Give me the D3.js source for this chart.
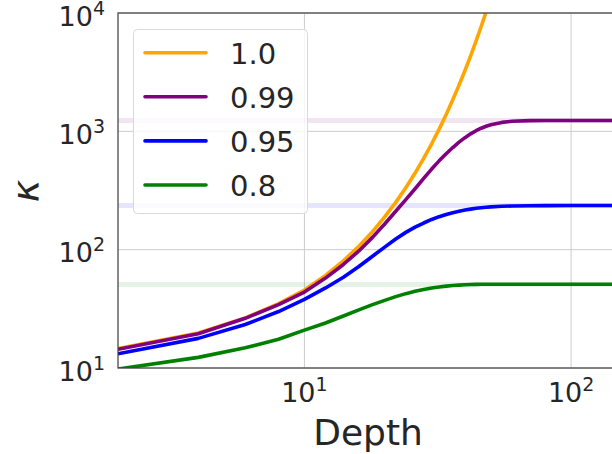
<!DOCTYPE html>
<head>
    <meta charset="utf-8">
    <script src="https://d3js.org/d3.v7.min.js"></script>
    <style>
        body { margin:0; background:#fff; }
        text { font-family: "DejaVu Sans", sans-serif; fill:#262626; }
    </style>
</head>
<body>
<div id="chart"></div>
<script>

    // ******************** Data ************************
    var depths = [2, 4, 6, 8, 10, 12, 14, 16, 18, 20, 22, 24, 26, 28, 30, 32, 34, 36, 38, 40,
                  42, 44, 46, 48, 50, 55, 60, 70, 80, 100, 120, 150];

    var seriesNames = ["1.0", "0.99", "0.95", "0.8"];
    var seriesColors = ["orange", "purple", "blue", "green"];

    var kappa_100 = [14.6, 19.8, 26.5, 35, 45.6, 60.5, 80.5, 107, 142, 189, 251, 334, 444, 590, 785, 1044, 1389, 1847, 2456, 3267,
                     4345, 5779, 7686, 10222, 13600, 28000, 58000, 250000, 1100000, 2e7, 4e8, 3e10];
    var kappa_099 = [14.4, 19.5, 26.3, 34.3, 43.8, 57.5, 75, 97.5, 127, 165, 211, 265, 327, 400, 480, 563, 647, 730, 810, 884,
                     952, 1012, 1062, 1104, 1138, 1190, 1215, 1231, 1234, 1235, 1235, 1235];
    var kappa_095 = [13.2, 17.8, 23.3, 30, 38, 47.5, 58.5, 72, 88, 105, 123, 140, 155, 168, 180, 190, 198.5, 205.5, 211, 216,
                     220, 223.5, 226.3, 228.5, 230, 232.5, 234, 235.3, 235.8, 236, 236, 236];
    var kappa_080 = [9.8, 12.3, 14.8, 17.5, 20.9, 24, 27.5, 31, 34.3, 37.3, 40.1, 42.5, 44.5, 46.1, 47.4, 48.4, 49.2, 49.8, 50.2, 50.5,
                     50.7, 50.85, 50.95, 51, 51, 51, 51, 51, 51, 51, 51, 51];
    var kappaSeries = [kappa_100, kappa_099, kappa_095, kappa_080];

    // limits reached for gamma < 1 (faint horizontal lines)
    var limitValues = [1235, 236, 50.8];
    var limitColors = ["purple", "blue", "green"];

    var xTicks = [10, 100];
    var yTicks = [10, 100, 1000, 10000];

    // ******************** Layout ************************
    var W = 612, H = 454;
    var pLeft = 118, pTop = 13, pBottom = 368;

    var x = d3.scaleLog().domain([2, 150]).range([pLeft, pLeft + 266.7 * Math.log10(75)]);
    var y = d3.scaleLog().domain([10, 10000]).range([pBottom, pTop]);
    var pRight = x.range()[1];

    var svg = d3.select("#chart").append("svg")
        .attr("width", W)
        .attr("height", H);

    svg.append("defs").append("clipPath").attr("id", "plotClip")
        .append("rect")
        .attr("x", pLeft).attr("y", pTop)
        .attr("width", pRight - pLeft).attr("height", pBottom - pTop);

    // grid
    svg.append("g").selectAll("line")
        .data(yTicks)
        .enter().append("line")
        .attr("x1", pLeft).attr("x2", pRight)
        .attr("y1", function (d) { return y(d); })
        .attr("y2", function (d) { return y(d); })
        .style("stroke", "#cccccc").style("stroke-width", 1);
    svg.append("g").selectAll("line")
        .data(xTicks)
        .enter().append("line")
        .attr("x1", function (d) { return x(d); })
        .attr("x2", function (d) { return x(d); })
        .attr("y1", pTop).attr("y2", pBottom)
        .style("stroke", "#cccccc").style("stroke-width", 1);

    var plot = svg.append("g").attr("clip-path", "url(#plotClip)");

    // faint limit lines
    plot.selectAll("line.limit")
        .data(limitValues)
        .enter().append("line")
        .attr("class", "limit")
        .attr("x1", pLeft).attr("x2", pRight)
        .attr("y1", function (d) { return y(d); })
        .attr("y2", function (d) { return y(d); })
        .style("stroke", function (d, i) { return limitColors[i]; })
        .style("stroke-opacity", 0.1)
        .style("stroke-width", 5);

    var line = d3.line()
        .x(function (d, i) { return x(depths[i]); })
        .y(function (d) { return y(d); });

    plot.selectAll("path.series")
        .data(kappaSeries)
        .enter().append("path")
        .attr("class", "series")
        .attr("d", line)
        .style("fill", "none")
        .style("stroke", function (d, i) { return seriesColors[i]; })
        .style("stroke-width", 3.6)
        .style("stroke-linejoin", "round");

    // spines
    svg.append("rect")
        .attr("x", pLeft).attr("y", pTop)
        .attr("width", pRight - pLeft).attr("height", pBottom - pTop)
        .style("fill", "none").style("stroke", "#444").style("stroke-width", 1.25);

    // tick labels with superscript exponents
    function powerLabel(sel, d) {
        sel.append("tspan").text("10");
        sel.append("tspan")
            .attr("dy", -11)
            .style("font-size", "19px")
            .text(Math.round(Math.log10(d)));
    }

    svg.append("g").selectAll("text")
        .data(yTicks)
        .enter().append("text")
        .attr("x", 105)
        .attr("y", function (d) { return y(d) + 12.5; })
        .attr("text-anchor", "end")
        .style("font-size", "27px")
        .each(function (d) { powerLabel(d3.select(this), d); });

    svg.append("g").selectAll("text")
        .data(xTicks)
        .enter().append("text")
        .attr("x", function (d) { return x(d); })
        .attr("y", 402)
        .attr("text-anchor", "middle")
        .style("font-size", "27px")
        .each(function (d) { powerLabel(d3.select(this), d); });

    // axis labels
    svg.append("text")
        .attr("x", (pLeft + 612) / 2 + 3)
        .attr("y", 445)
        .attr("text-anchor", "middle")
        .style("font-size", "36px")
        .text("Depth");

    svg.append("text")
        .attr("transform", "translate(38,191) rotate(-90)")
        .attr("text-anchor", "middle")
        .style("font-size", "38px")
        .style("font-style", "italic")
        .text("κ");

    // legend
    var legend = svg.append("g");
    legend.append("rect")
        .attr("x", 133.5).attr("y", 29.5)
        .attr("width", 174).attr("height", 184)
        .attr("rx", 4)
        .style("fill", "white").style("fill-opacity", 0.8)
        .style("stroke", "#d9d9d9").style("stroke-width", 1);

    var items = legend.selectAll("g.item")
        .data(seriesNames)
        .enter().append("g")
        .attr("class", "item")
        .attr("transform", function (d, i) { return "translate(0," + (52.7 + i * 44.1) + ")"; });
    items.append("line")
        .attr("x1", 145).attr("x2", 206)
        .style("stroke", function (d, i) { return seriesColors[i]; })
        .style("stroke-width", 3.6)
        .style("stroke-linecap", "round");
    items.append("text")
        .attr("x", 230)
        .attr("y", 11)
        .style("font-size", "29px")
        .text(function (d) { return d; });

</script>
</body>
